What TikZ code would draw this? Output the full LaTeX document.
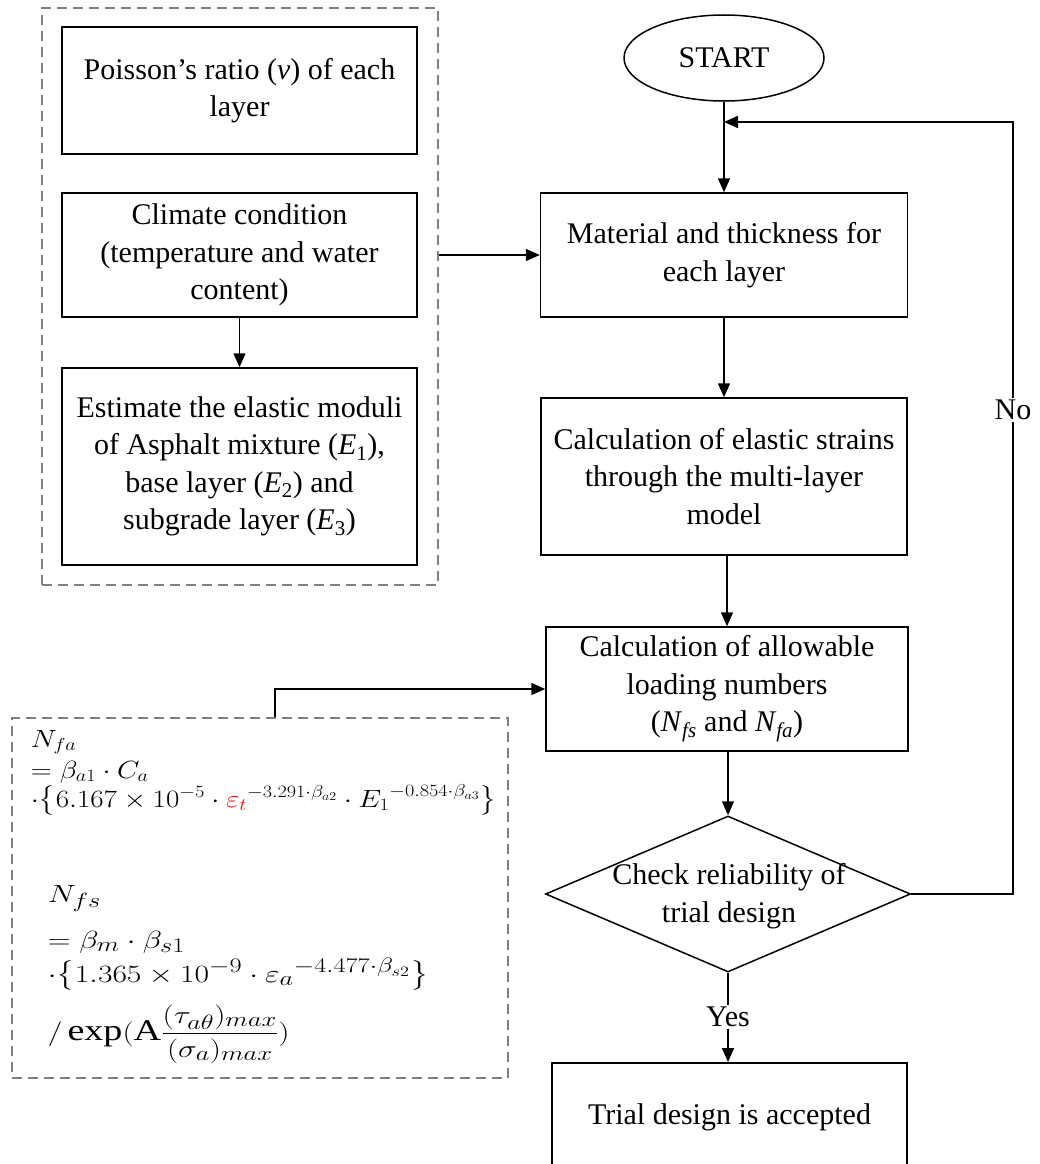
\documentclass[tikz,border=0pt]{standalone}
\usepackage{fontspec}
\setmainfont{Liberation Serif}
\usepackage{amsmath}
\usepackage{graphicx}
\usetikzlibrary{arrows.meta,shapes.geometric,calc}
\definecolor{dashgray}{RGB}{128,128,128}
\newcommand\mainsize{\fontsize{30}{37.5}\selectfont}
\newcommand\fsA{\fontsize{24}{26}\selectfont}
\newcommand\fsB{\fontsize{30}{32}\selectfont}
\newcommand\fmA[1]{\scalebox{1.17}[1]{#1}}
\newcommand\fmB[1]{\scalebox{1.27}[1]{#1}}
\begin{document}
\begin{tikzpicture}[x=1pt,y=-1pt,line width=1.5pt,
  box/.style={draw,line width=1.5pt,align=center,inner sep=0pt,font=\mainsize},
  grp/.style={draw=dashgray,line width=1.3pt,dash pattern=on 10pt off 6pt,inner sep=0pt},
  arr/.style={-{Triangle[length=14pt,width=12pt]},line width=1.5pt},
  lbl/.style={fill=white,inner sep=2pt,font=\mainsize},
  fml/.style={anchor=base west,inner sep=0pt}]
\useasboundingbox (0,0) rectangle (1039,1164);
\clip (0,0) rectangle (1039,1164);
% left group
\node[grp,minimum width=396,minimum height=577] (grp) at (240,296.5) {};
\node[box,minimum width=355,minimum height=127] (pois) at (239.5,90.5) {Poisson’s ratio (\textit{v}) of each\\layer};
\node[box,minimum width=355,minimum height=124] (clim) at (239.5,255) {Climate condition\\(temperature and water\\content)};
\node[box,minimum width=355,minimum height=197] (est) at (239.5,466.5) {Estimate the elastic moduli\\of Asphalt mixture (\textit{E}\textsubscript{1}),\\base layer (\textit{E}\textsubscript{2}) and\\subgrade layer (\textit{E}\textsubscript{3})};
% main column
\node[draw,ellipse,minimum width=200,minimum height=86,inner sep=0pt,font=\mainsize] (start) at (724,58) {START};
\node[box,minimum width=367,minimum height=124] (mat) at (724,255) {Material and thickness for\\each layer};
\node[box,minimum width=366,minimum height=157] (strain) at (724,476.5) {Calculation of elastic strains\\through the multi-layer\\model};
\node[box,minimum width=362,minimum height=124] (allow) at (727,689) {Calculation of allowable\\loading numbers\\(\textit{N}\textsubscript{\textit{fs}} and \textit{N}\textsubscript{\textit{fa}})};
\node[draw,diamond,aspect=2.34,minimum width=365,minimum height=156,inner sep=0pt] (dia) at (728,894) {};
\node[font=\mainsize,align=center,inner sep=0pt] (diatext) at (729,896) {Check reliability of\\trial design};
\node[draw,minimum width=355,minimum height=240,anchor=north,inner sep=0pt] (trial) at (729.5,1062) {};
\node[font=\mainsize,inner sep=0pt] (trialtext) at (729.5,1117) {Trial design is accepted};
% formula box
\node[grp,minimum width=496,minimum height=360] (fbox) at (260,898) {};
\node[fml,font=\fsA] (fa1) at (30,747) {\fmA{$N_{fa}$}};
\node[fml,font=\fsA] (fa2) at (30,778) {\fmA{$=\beta_{a1}\cdot C_a$}};
\node[fml,font=\fsA] (fa3) at (30,807) {\fmA{$\cdot\bigl\{6.167\times10^{-5}\cdot{\color{red}\varepsilon_t}^{-3.291\cdot\beta_{a2}}\cdot {E_1}^{-0.854\cdot\beta_{a3}}\bigr\}$}};
\node[fml,font=\fsB] (fs1) at (47,902) {\fmB{$N_{fs}$}};
\node[fml,font=\fsB] (fs2) at (47,948) {\fmB{$=\beta_m\cdot\beta_{s1}$}};
\node[fml,font=\fsB] (fs3) at (47,982) {\fmB{$\cdot\bigl\{1.365\times10^{-9}\cdot{\varepsilon_a}^{-4.477\cdot\beta_{s2}}\bigr\}$}};
\node[fml,font=\fsB] (fs4) at (47,1040) {\fmB{$/\exp(\mathrm{A}\dfrac{(\tau_{a\theta})_{max}}{(\sigma_a)_{max}})$}};
% connectors
\coordinate (fbtop) at (1013,122);
\draw[arr] (dia.east) -| (fbtop) -- (fbtop -| start.south);
\node[lbl] (no) at (1013,410) {No};
\draw[arr] (start.south) -- (mat.north);
\draw[arr] (mat.south) -- (strain.north);
\draw[arr] (allow.north |- strain.south) -- (allow.north);
\draw[arr] (dia.north |- allow.south) -- (dia.north);
\draw[arr] (dia.south) -- (dia.south |- trial.north);
\node[lbl] (yes) at (728,1017) {Yes};
\draw[arr] (clim.south) -- (est.north);
\draw[arr] (grp.east |- mat.west) -- (mat.west);
\draw[arr] ([xshift=15pt]fbox.north) |- (allow.west);
\end{tikzpicture}
\end{document}
